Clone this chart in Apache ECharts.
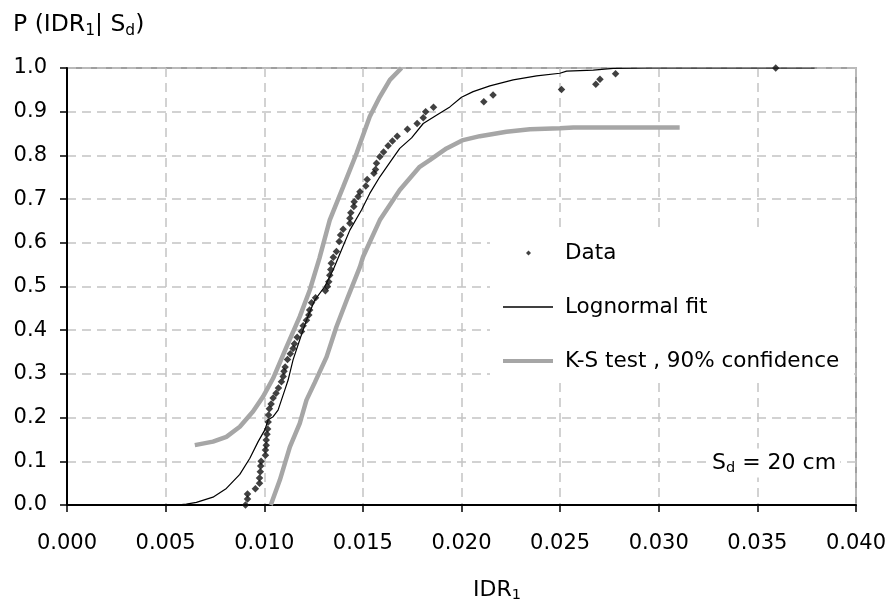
<!DOCTYPE html>
<html>
<head>
<meta charset="utf-8">
<script src="https://cdn.jsdelivr.net/npm/echarts@6/dist/echarts.min.js"></script>
<style>
  html, body { margin: 0; padding: 0; background: #fff; }
  #chart { width: 893px; height: 609px; }
</style>
</head>
<body>
<div id="chart"></div>
<script>
// observed sample: [IDR1, P]
const dataPoints = [
  [0.00905, 0.000], [0.00915, 0.014], [0.00915, 0.025], [0.00955, 0.037], [0.00976, 0.050],
  [0.00976, 0.062], [0.00980, 0.076], [0.00982, 0.089], [0.00984, 0.100], [0.01006, 0.114],
  [0.01006, 0.126], [0.01010, 0.137], [0.01010, 0.149], [0.01014, 0.162], [0.01017, 0.174],
  [0.01020, 0.190], [0.01022, 0.206], [0.01026, 0.220], [0.01035, 0.231], [0.01045, 0.245],
  [0.01060, 0.256], [0.01072, 0.268], [0.01087, 0.282], [0.01096, 0.294], [0.01100, 0.306],
  [0.01106, 0.316], [0.01118, 0.333], [0.01132, 0.346], [0.01146, 0.358], [0.01153, 0.369],
  [0.01167, 0.384], [0.01189, 0.397], [0.01197, 0.410], [0.01214, 0.423], [0.01226, 0.435],
  [0.01230, 0.446], [0.01240, 0.463], [0.01260, 0.474], [0.01310, 0.490], [0.01320, 0.500],
  [0.01327, 0.511], [0.01332, 0.526], [0.01337, 0.539], [0.01340, 0.553], [0.01350, 0.567],
  [0.01366, 0.580], [0.01380, 0.603], [0.01387, 0.618], [0.01400, 0.631], [0.01434, 0.645],
  [0.01434, 0.656], [0.01439, 0.669], [0.01454, 0.683], [0.01456, 0.694], [0.01476, 0.706],
  [0.01485, 0.717], [0.01515, 0.730], [0.01522, 0.745], [0.01556, 0.759], [0.01564, 0.768],
  [0.01569, 0.782], [0.01586, 0.797], [0.01605, 0.808], [0.01628, 0.822], [0.01650, 0.833],
  [0.01674, 0.844], [0.01726, 0.860], [0.01775, 0.873], [0.01806, 0.886], [0.01818, 0.900],
  [0.01858, 0.910], [0.02113, 0.923], [0.02160, 0.938], [0.02507, 0.951], [0.02681, 0.963],
  [0.02702, 0.974], [0.02781, 0.987], [0.03593, 1.000]
];

const lognormalFit = [
  [0.00555, 0.000], [0.00605, 0.002], [0.00656, 0.006], [0.00740, 0.018], [0.00808, 0.038],
  [0.00876, 0.070], [0.00927, 0.107], [0.00969, 0.145], [0.01003, 0.172], [0.01020, 0.195],
  [0.01045, 0.202], [0.01070, 0.217], [0.01087, 0.240], [0.01104, 0.263], [0.01121, 0.286],
  [0.01146, 0.332], [0.01180, 0.378], [0.01214, 0.423], [0.01256, 0.469], [0.01307, 0.500],
  [0.01349, 0.538], [0.01392, 0.584], [0.01434, 0.629], [0.01493, 0.675], [0.01535, 0.713],
  [0.01586, 0.751], [0.01645, 0.789], [0.01687, 0.816], [0.01747, 0.840], [0.01806, 0.873],
  [0.01873, 0.892], [0.01941, 0.911], [0.02000, 0.933], [0.02059, 0.946], [0.02144, 0.959],
  [0.02262, 0.973], [0.02381, 0.982], [0.02499, 0.988], [0.02533, 0.993], [0.02668, 0.995],
  [0.02769, 0.999], [0.02955, 1.000], [0.03790, 1.000]
];

const ksUpper = [
  [0.00648, 0.137], [0.00740, 0.145], [0.00808, 0.156], [0.00876, 0.179], [0.00943, 0.214],
  [0.00994, 0.248], [0.01045, 0.290], [0.01113, 0.362], [0.01180, 0.431], [0.01231, 0.492],
  [0.01280, 0.565], [0.01332, 0.652], [0.01400, 0.728], [0.01468, 0.805], [0.01535, 0.889],
  [0.01586, 0.934], [0.01637, 0.973], [0.01696, 1.000]
];

const ksLower = [
  [0.01033, 0.000], [0.01079, 0.057], [0.01130, 0.133], [0.01180, 0.187], [0.01214, 0.240],
  [0.01256, 0.280], [0.01316, 0.339], [0.01366, 0.408], [0.01425, 0.477], [0.01485, 0.545],
  [0.01501, 0.568], [0.01586, 0.652], [0.01687, 0.721], [0.01788, 0.774], [0.01839, 0.789],
  [0.01924, 0.816], [0.02008, 0.835], [0.02093, 0.844], [0.02228, 0.854], [0.02347, 0.860],
  [0.02499, 0.862], [0.02567, 0.864], [0.03106, 0.864]
];

const FONT = 'DejaVu Sans';
const KS_NAME = 'K-S test , 90% confidence';
const KS_COLOR = '#a6a6a6';

const chart = echarts.init(document.getElementById('chart'));

const legendBase = {
  orient: 'vertical',
  padding: 0,
  selectedMode: false,
  textStyle: { fontFamily: FONT, fontSize: 21.5, color: '#000', lineHeight: 24 }
};

const subStyle = size => ({ fontFamily: FONT, fontSize: size, fill: '#000', padding: [Math.round(size * 0.7), 0, 0, 0] });

const option = {
  animation: false,
  backgroundColor: '#fff',
  grid: {
    left: 67, right: 37, top: 68, bottom: 104,
    show: true, borderColor: '#808080', borderWidth: 1.5, backgroundColor: 'transparent'
  },
  xAxis: {
    type: 'value', min: 0, max: 0.04, interval: 0.005,
    axisLine: { show: true, onZero: false, lineStyle: { color: '#000', width: 2 } },
    axisTick: { show: true, length: 7, lineStyle: { color: '#000', width: 1.5 } },
    axisLabel: {
      margin: 28, color: '#000', fontFamily: FONT, fontSize: 21,
      formatter: v => v.toFixed(3)
    },
    splitLine: { show: true, lineStyle: { color: '#c4c4c4', width: 1.5, type: [9, 6] } }
  },
  yAxis: {
    type: 'value', min: 0, max: 1, interval: 0.1,
    axisLine: { show: true, onZero: false, lineStyle: { color: '#000', width: 2 } },
    axisTick: { show: true, length: 7, lineStyle: { color: '#000', width: 1.5 } },
    axisLabel: {
      margin: 20, color: '#000', fontFamily: FONT, fontSize: 21,
      formatter: v => v.toFixed(1)
    },
    splitLine: { show: true, lineStyle: { color: '#c4c4c4', width: 1.5, type: [9, 6] } }
  },
  legend: [
    Object.assign({}, legendBase, {
      left: 526, top: 241, itemWidth: 5, itemHeight: 5,
      textStyle: Object.assign({}, legendBase.textStyle, { padding: [0, 0, 0, 29] }),
      data: [{ name: 'Data', icon: 'diamond', itemStyle: { color: '#111' } }]
    }),
    Object.assign({}, legendBase, {
      left: 503, top: 295, itemWidth: 50, itemHeight: 1.5,
      textStyle: Object.assign({}, legendBase.textStyle, { padding: [0, 0, 0, 7] }),
      data: [{ name: 'Lognormal fit', icon: 'rect', itemStyle: { color: '#000' } }]
    }),
    Object.assign({}, legendBase, {
      left: 503, top: 349, itemWidth: 50, itemHeight: 4,
      textStyle: Object.assign({}, legendBase.textStyle, { padding: [0, 0, 0, 7] }),
      data: [{ name: KS_NAME, icon: 'rect', itemStyle: { color: KS_COLOR } }]
    })
  ],
  graphic: [
    {
      type: 'rect', z: 1, silent: true,
      shape: { x: 490, y: 228, width: 364, height: 155 },
      style: { fill: '#fff' }
    },
    {
      type: 'text', z: 5, silent: true,
      style: {
        x: 13, y: 25, verticalAlign: 'middle',
        text: '{a|P (IDR}{s|1}{a|| S}{s|d}{a|)}',
        rich: {
          a: { fontFamily: FONT, fontSize: 23.5, fill: '#000' },
          s: subStyle(15.5)
        }
      }
    },
    {
      type: 'text', z: 5, silent: true,
      style: {
        x: 497, y: 590, align: 'center', verticalAlign: 'middle',
        text: '{a|IDR}{s|1}',
        rich: {
          a: { fontFamily: FONT, fontSize: 22, fill: '#000' },
          s: subStyle(14.5)
        }
      }
    },
    {
      type: 'text', z: 5, silent: true,
      style: {
        x: 708, y: 463, verticalAlign: 'middle',
        text: '{a|S}{s|d}{a| = 20 cm}',
        backgroundColor: '#fff', padding: [2, 4, 2, 4],
        rich: {
          a: { fontFamily: FONT, fontSize: 22, fill: '#000' },
          s: subStyle(14.5)
        }
      }
    }
  ],
  series: [
    {
      name: KS_NAME, type: 'line', data: ksUpper, showSymbol: false, z: 2,
      lineStyle: { color: KS_COLOR, width: 4.5 }, itemStyle: { color: KS_COLOR }
    },
    {
      name: KS_NAME, type: 'line', data: ksLower, showSymbol: false, z: 2,
      lineStyle: { color: KS_COLOR, width: 4.5 }, itemStyle: { color: KS_COLOR }
    },
    {
      name: 'Lognormal fit', type: 'line', data: lognormalFit, showSymbol: false, z: 3,
      lineStyle: { color: '#000', width: 1.2 }, itemStyle: { color: '#000' }
    },
    {
      name: 'Data', type: 'scatter', data: dataPoints, symbol: 'diamond', symbolSize: 7.5, z: 4,
      itemStyle: { color: '#111' }
    }
  ]
};

chart.setOption(option);
</script>
</body>
</html>
